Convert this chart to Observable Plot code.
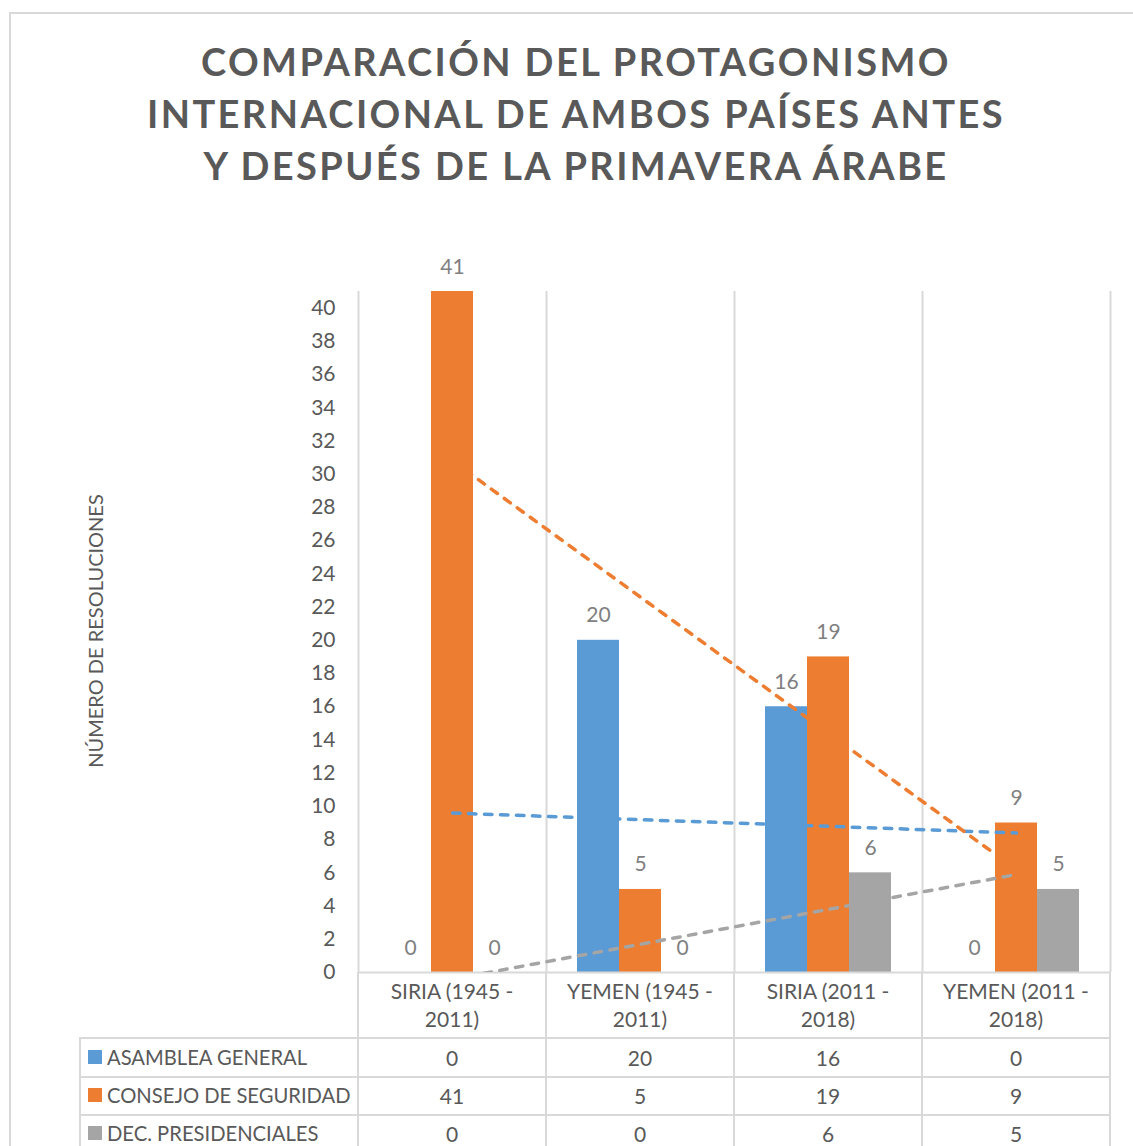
<!DOCTYPE html>
<html>
<head>
<meta charset="utf-8">
<script src="https://cdn.jsdelivr.net/npm/d3@7"></script>
<script src="https://cdn.jsdelivr.net/npm/@observablehq/plot@0.6"></script>
<style>
  body { margin: 0; background: #fff; }
  #page { position: relative; width: 1133px; height: 1146px; overflow: hidden; background: #fff;
          font-family: Lato, "Open Sans", sans-serif; color: #595959; }
  #frame { position: absolute; left: 9px; top: 12px; width: 1300px; height: 1300px; border: 2px solid #d9d9d9; box-sizing: border-box; }
  #title { position: absolute; left: 0; top: 35px; width: 1152px; text-align: center; font-weight: 700;
           font-size: 38px; line-height: 52px; letter-spacing: 2.4px; color: #595959; }
  #ylabel { position: absolute; left: 95px; top: 631px; transform: translate(-50%, -50%) rotate(-90deg);
            white-space: nowrap; font-size: 20px; color: #595959; }
  #chart { position: absolute; left: 0; top: 240px; }
  .line { position: absolute; background: #d9d9d9; }
  .cell { position: absolute; transform: translate(-50%, -50%); white-space: nowrap; font-size: 21px; line-height: 1; color: #595959; text-align: center; }
  .hdr { position: absolute; transform: translate(-50%, -50%); white-space: pre; font-size: 21px; line-height: 28px; color: #595959; text-align: center; }
  .leg { position: absolute; transform: translateY(-50%); white-space: nowrap; font-size: 20.2px; line-height: 1; color: #595959; }
  .sw { position: absolute; width: 14px; height: 14px; transform: translateY(-50%); }
</style>
</head>
<body>
<div id="page">
  <div id="frame"></div>
  <div id="title">COMPARACIÓN DEL PROTAGONISMO<br>INTERNACIONAL DE AMBOS PAÍSES ANTES<br>Y DESPUÉS DE LA PRIMAVERA ÁRABE</div>
  <div id="ylabel">NÚMERO DE RESOLUCIONES</div>
  <div id="chart"></div>
</div>
<script>
// ---- data ----
const categories = ["SIRIA (1945 -\n2011)", "YEMEN (1945 -\n2011)", "SIRIA (2011 -\n2018)", "YEMEN (2011 -\n2018)"];
const seriesNames = ["ASAMBLEA GENERAL", "CONSEJO DE SEGURIDAD", "DEC. PRESIDENCIALES"];
const seriesColors = ["#5B9BD5", "#ED7D31", "#A5A5A5"];
const asambleaGeneral = [0, 20, 16, 0];
const consejoSeguridad = [41, 5, 19, 9];
const decPresidenciales = [0, 0, 6, 5];
const yTicks = [0, 2, 4, 6, 8, 10, 12, 14, 16, 18, 20, 22, 24, 26, 28, 30, 32, 34, 36, 38, 40];

const seriesValues = [asambleaGeneral, consejoSeguridad, decPresidenciales];
const rows = [];
seriesValues.forEach((vals, s) => vals.forEach((v, i) => rows.push({cat: i + 1, s, series: seriesNames[s], value: v})));

const groupPad = 31 / 188;
const barW = (1 - 2 * groupPad) / 3;
const bx1 = d => d.cat - 0.5 + groupPad + d.s * barW;
const bx2 = d => bx1(d) + barW;
const bmid = d => bx1(d) + barW / 2;

const W = 1133, H = 734, ML = 358, MR = 23, MT = 51, MB = 2, TOP = 240;
const plot = Plot.plot({
  width: W, height: H,
  marginLeft: ML, marginRight: MR, marginTop: MT, marginBottom: MB,
  style: {fontFamily: "Lato, 'Open Sans', sans-serif", fontSize: "21px", color: "#595959", background: "transparent", overflow: "visible"},
  x: {domain: [0.5, categories.length + 0.5], axis: null},
  y: {domain: [0, 41], ticks: yTicks, tickSize: 0, tickPadding: 23, label: null},
  color: {domain: seriesNames, range: seriesColors},
  marks: [
    Plot.ruleX(d3.range(categories.length + 1).map(i => i + 0.5), {stroke: "#d9d9d9", strokeWidth: 2}),
    Plot.rectY(rows, {x1: bx1, x2: bx2, y1: 0, y2: "value", fill: "series"}),
    Plot.ruleY([0], {stroke: "#d9d9d9", strokeWidth: 2}),
    Plot.linearRegressionY(rows, {x: "cat", y: "value", stroke: "series", ci: 0, strokeWidth: 3.5,
      strokeDasharray: "7.5,8.5", strokeLinecap: "round", clip: true}),
    Plot.text(rows, {x: bmid, y: "value", text: d => String(d.value), dy: -18, lineAnchor: "bottom",
      fill: "#7f7f7f", fontSize: 21})
  ]
});
document.getElementById("chart").appendChild(plot);

// ---- data table below the chart, aligned on the plot's x scale ----
const page = document.getElementById("page");
const sx = plot.scale("x");
const colEdges = d3.range(categories.length + 1).map(i => sx.apply(i + 0.5));
const legendLeft = 80;
const rowEdges = [TOP + H - MB, 1038, 1077, 1115, 1153];
function line(x, y, w, h) {
  const d = document.createElement("div");
  d.className = "line";
  Object.assign(d.style, {left: x + "px", top: y + "px", width: w + "px", height: h + "px"});
  page.appendChild(d);
}
for (let r = 1; r < rowEdges.length; r++) line(legendLeft - 1, rowEdges[r] - 1, colEdges[colEdges.length - 1] - legendLeft + 2, 2);
colEdges.forEach(x => line(x - 1, rowEdges[0], 2, 1146 - rowEdges[0]));
line(legendLeft - 1, rowEdges[1], 2, 1146 - rowEdges[1]);

function addText(cls, x, y, txt) {
  const d = document.createElement("div");
  d.className = cls;
  d.textContent = txt;
  Object.assign(d.style, {left: x + "px", top: y + "px"});
  page.appendChild(d);
  return d;
}
categories.forEach((c, i) => {
  addText("hdr", (colEdges[i] + colEdges[i + 1]) / 2, (rowEdges[0] + rowEdges[1]) / 2, c);
});
seriesValues.forEach((vals, s) => {
  const cy = (rowEdges[s + 1] + rowEdges[s + 2]) / 2 - 1;
  const sw = document.createElement("div");
  sw.className = "sw";
  Object.assign(sw.style, {left: "88px", top: cy + "px", background: seriesColors[s]});
  page.appendChild(sw);
  addText("leg", 107, cy, seriesNames[s]);
  vals.forEach((v, i) => addText("cell", (colEdges[i] + colEdges[i + 1]) / 2, cy, String(v)));
});
</script>
</body>
</html>
